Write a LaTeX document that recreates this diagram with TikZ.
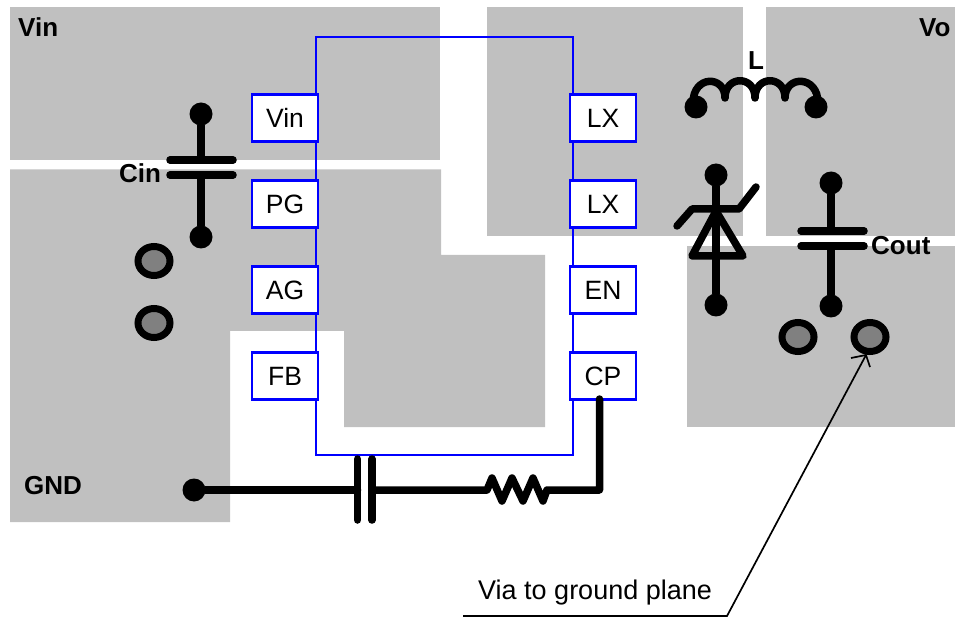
\documentclass[tikz,border=0pt]{standalone}
\usepackage{fontspec}
\setmainfont{Liberation Sans}
\definecolor{padgray}{RGB}{192,192,192}
\definecolor{viagray}{RGB}{128,128,128}
\definecolor{traceblue}{RGB}{0,0,255}
\tikzset{
  pad/.style={fill=padgray,draw=none},
  trace/.style={draw=traceblue,line width=2.6pt,line join=miter},
  pin/.style={draw=traceblue,fill=white,line width=2.6pt,minimum width=66pt,minimum height=47pt,inner sep=0pt,font=\fontsize{26.5}{27}\selectfont},
  wire/.style={draw=black,line width=7.5pt,line cap=round,line join=round},
  plate/.style={draw=black,line width=7.5pt,line cap=round},
  dot/.style={circle,fill=black,minimum size=23pt,inner sep=0pt},
  via/.style={ellipse,draw=black,fill=viagray,line width=7pt,minimum width=32pt,minimum height=29pt,inner sep=0pt},
  lbl/.style={font=\fontsize{26}{26}\selectfont\bfseries,inner sep=0pt},
  note/.style={font=\fontsize{27}{27}\selectfont,inner sep=0pt},
  leader/.style={draw=black,line width=1.7pt}
}
\usetikzlibrary{shapes.geometric}
\begin{document}
\begin{tikzpicture}[x=1pt,y=-1pt]
\useasboundingbox (0,0) rectangle (955,617);
\clip (0,0) rectangle (955,617);
% copper pads
\fill[pad] (10,7) rectangle (440,160);
\fill[pad] (10,169.5) -- (441,169.5) -- (441,255) -- (545,255) -- (545,427) -- (344,427) -- (344,331) -- (230,331) -- (230,522) -- (10,522) -- cycle;
\fill[pad] (487,7) rectangle (743,236);
\fill[pad] (766,7) rectangle (955,236);
\fill[pad] (687,246) rectangle (955,427);
% pins
\node[pin] (vin) at (285,118) {Vin};
\node[pin] (pg) at (285,204) {PG};
\node[pin] (ag) at (285,290) {AG};
\node[pin] (fb) at (285,376) {FB};
\node[pin] (lx1) at (603,118) {LX};
\node[pin] (lx2) at (603,204) {LX};
\node[pin] (en) at (603,290) {EN};
\node[pin] (cp) at (603,376) {CP};
% blue traces
\draw[trace] (316,94) -- (316,37) -- (573,37) -- (573,94);
\draw[trace] (316,142) -- (316,180);
\draw[trace] (316,227) -- (316,266);
\draw[trace] (316,313) -- (316,352);
\draw[trace] (316,399) -- (316,455) -- (573,455) -- (573,399);
\draw[trace] (573,142) -- (573,180);
\draw[trace] (573,227) -- (573,266);
\draw[trace] (573,313) -- (573,352);
% labels
\node[lbl,anchor=base west] (lvin) at (18,37) {Vin};
\node[lbl,anchor=base west] (lvo) at (919,37) {Vo};
\node[lbl,anchor=base west] (lgnd) at (24,494) {GND};
\node[lbl,anchor=base west] (lcin) at (119,183) {Cin};
\node[lbl,anchor=base west] (lcout) at (871,255) {Cout};
\node[lbl,anchor=base west] (ll) at (748,70) {L};
% Cin
\node[dot] (c1t) at (201,114) {};
\node[dot] (c1b) at (201,237) {};
\coordinate (c1p) at (201,160);
\coordinate (c1q) at (201,175);
\draw[wire] (c1t) -- (c1p);
\draw[wire] (c1q) -- (c1b);
\draw[plate] (170,160) -- (233,160);
\draw[plate] (170,175) -- (233,175);
% vias
\node[via] (v1) at (154,261) {};
\node[via] (v2) at (154,323) {};
\node[via] (v3) at (798,337) {};
\node[via] (v4) at (870,337) {};
% inductor
\node[dot] (la) at (696,107) {};
\node[dot] (lb) at (816,107) {};
\draw[wire] (693,103) .. controls (693,75) and (725,75) .. (725,98)
  .. controls (725,75) and (755,75) .. (755,98)
  .. controls (755,75) and (785,75) .. (785,98)
  .. controls (785,75) and (818,75) .. (818,103);
% zener
\node[dot] (dt) at (716,175) {};
\node[dot] (db) at (716,305) {};
\draw[wire] (dt) -- (db);
\draw[wire] (716,211) -- (692,256) -- (743,256) -- cycle;
\draw[wire] (677,226) -- (692,209) -- (739,209) -- (756,187);
% Cout
\node[dot] (c2t) at (831,183) {};
\node[dot] (c2b) at (831,306) {};
\coordinate (c2p) at (831,231);
\coordinate (c2q) at (831,246);
\draw[wire] (c2t) -- (c2p);
\draw[wire] (c2q) -- (c2b);
\draw[plate] (801,231) -- (864,231);
\draw[plate] (801,246) -- (864,246);
% bottom RC
\node[dot] (g) at (194,490) {};
\coordinate (cl) at (357.5,490);
\coordinate (cr) at (372,490);
\draw[wire] (g) -- (cl);
\draw[plate] (cl |- 0,459) -- (cl |- 0,520);
\draw[plate] (cr |- 0,459) -- (cr |- 0,520);
\draw[wire] (cr) -- (487,490) -- (492,478) -- (502,501) -- (512,478) -- (523,501) -- (533,478) -- (543,501) -- (547,490) -- (599.5,490) -- (599.5,399);
% leader
\node[note,anchor=base west] (via note) at (478,599) {Via to ground plane};
\coordinate (lh) at (463,616);
\coordinate (lk) at (727,616);
\coordinate (tip) at (866,355);
\draw[leader] (lh) -- (lk) -- (tip);
\draw[leader] (851,358) -- (tip) -- (870,367);
\end{tikzpicture}
\end{document}
